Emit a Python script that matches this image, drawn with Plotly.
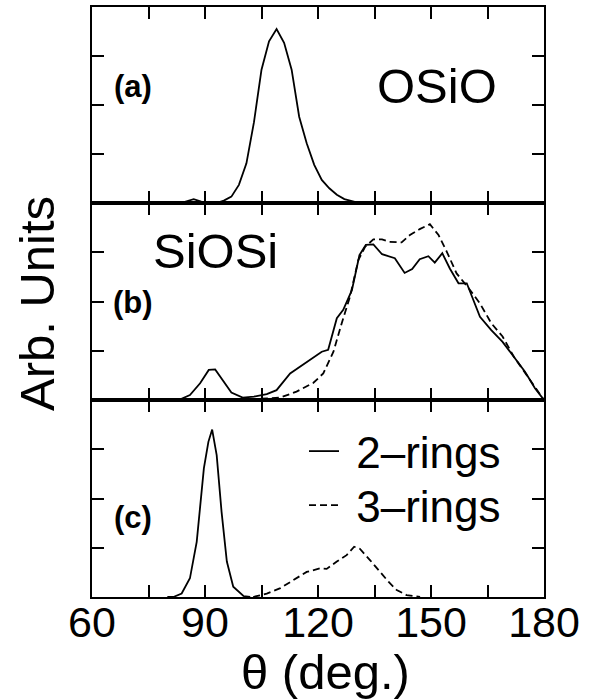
import plotly.graph_objects as go
from plotly.subplots import make_subplots

# ---- data (theta in degrees, values in arbitrary units) ----
a_theta = [80, 84, 87, 89, 91, 93, 95, 97, 99, 101, 103, 105, 107, 109, 111, 113, 115, 117, 119, 121, 123, 125, 127, 130, 134]
a_val = [0, 0.01, 0.08, 0.03, 0.01, 0.0, 0.05, 0.13, 0.37, 0.81, 1.65, 2.72, 3.30, 3.55, 3.27, 2.72, 1.76, 1.22, 0.78, 0.47, 0.30, 0.17, 0.08, 0.02, 0]

b2_theta = [83, 86, 88.7, 91, 92.7, 95, 97, 100, 103, 106.4, 109, 112.6, 115.2, 118, 121, 122.7, 125, 126.7, 129, 131, 132.7, 134.7, 137, 140.4, 143, 145, 147, 149.3, 151, 153, 155, 157.3, 159.5, 163, 166, 169, 172, 175, 177.6, 180]
b2_val = [0, 0.10, 0.34, 0.61, 0.62, 0.37, 0.15, 0.05, 0.07, 0.12, 0.20, 0.54, 0.68, 0.83, 0.98, 1.02, 1.66, 1.83, 2.23, 2.94, 3.15, 3.16, 2.96, 2.88, 2.58, 2.66, 2.86, 2.92, 2.79, 2.98, 2.67, 2.37, 2.37, 1.69, 1.42, 1.18, 0.88, 0.57, 0.24, 0]

b3_theta = [99, 104.6, 110, 114.3, 118.8, 121.4, 124.1, 126.3, 128.5, 130.7, 132.5, 134.7, 137, 139, 142.2, 144.4, 147, 149.7, 152, 154.2, 156.8, 160, 163, 166, 169, 172, 174.5, 177.2, 180]
b3_val = [0, 0.02, 0.05, 0.17, 0.35, 0.54, 0.98, 1.56, 2.10, 2.84, 3.11, 3.26, 3.26, 3.21, 3.20, 3.35, 3.47, 3.57, 3.35, 3.01, 2.57, 2.27, 1.96, 1.56, 1.29, 0.88, 0.61, 0.31, 0]

c2_theta = [80, 81.6, 83.8, 86, 87.8, 89.7, 90.9, 91.9, 93.1, 94.4, 95.8, 97.5, 100.2, 102]
c2_val = [0, 0, 0.07, 0.38, 1.12, 2.61, 3.15, 3.40, 2.88, 1.73, 0.72, 0.21, 0.02, 0]

c3_theta = [102.8, 106.4, 110, 113.5, 117, 120.5, 122.3, 125, 127.6, 129.6, 131.1, 133.8, 136.5, 138.7, 140.9, 143.5, 147.1]
c3_val = [0, 0.07, 0.18, 0.35, 0.51, 0.58, 0.57, 0.72, 0.85, 1.02, 0.98, 0.75, 0.51, 0.31, 0.14, 0.04, 0]

x_tickvals = [60, 75, 90, 105, 120, 135, 150, 165, 180]
x_ticktext = ["60", "", "90", "", "120", "", "150", "", "180"]
series_names = ["2\u2013rings", "3\u2013rings"]
panel_labels = ["(a)", "(b)", "(c)"]
species = ["OSiO", "SiOSi"]

FONT = "Liberation Sans, Arial, sans-serif"
LW = 1.8
DASH = "7px,4px"
NB = "\u00a0"

fig = make_subplots(rows=3, cols=1, shared_xaxes=True, vertical_spacing=0)

fig.add_trace(go.Scatter(x=a_theta, y=a_val, mode="lines", line=dict(color="black", width=LW),
                         showlegend=False), row=1, col=1)
fig.add_trace(go.Scatter(x=b2_theta, y=b2_val, mode="lines", line=dict(color="black", width=LW),
                         showlegend=False), row=2, col=1)
fig.add_trace(go.Scatter(x=b3_theta, y=b3_val, mode="lines", line=dict(color="black", width=LW, dash=DASH),
                         showlegend=False), row=2, col=1)
fig.add_trace(go.Scatter(x=c2_theta, y=c2_val, mode="lines", name=NB + series_names[0], legend="legend",
                         line=dict(color="black", width=LW)), row=3, col=1)
fig.add_trace(go.Scatter(x=c3_theta, y=c3_val, mode="lines", name=NB + series_names[1], legend="legend2",
                         line=dict(color="black", width=LW, dash=DASH)), row=3, col=1)

W, H = 590, 700
L, R, T, B = 92, 46, 7, 103
ph = H - T - B

def py2paper(py):
    return (H - B - py) / ph

def px2paper(px):
    return (px - L) / (W - L - R)

domains = [[py2paper(203), 1.0], [py2paper(400), py2paper(203)], [0.0, py2paper(400)]]

for i in range(3):
    fig.update_yaxes(row=i + 1, col=1, domain=domains[i], range=[0, 4], tickvals=[1, 2, 3],
                     showticklabels=False, ticks="inside", ticklen=12, tickwidth=1.5, tickcolor="black",
                     showline=True, linewidth=2, linecolor="black", mirror="ticks",
                     showgrid=False, zeroline=False)
    fig.update_xaxes(row=i + 1, col=1, range=[60, 180], tickvals=x_tickvals, ticktext=x_ticktext,
                     ticks="inside", ticklen=12, tickwidth=1.5, tickcolor="black",
                     showline=True, linewidth=2, linecolor="black", mirror="ticks",
                     showgrid=False, zeroline=False, showticklabels=(i == 2),
                     ticklabelstandoff=-14,
                     tickfont=dict(family=FONT, size=43, color="black"))

annotations = []
for lab, py in zip(panel_labels, [87, 302, 517]):
    annotations.append(dict(text="<b>" + lab + "</b>", x=px2paper(133), y=py2paper(py), xref="paper", yref="paper",
                            xanchor="center", yanchor="middle", showarrow=False,
                            font=dict(family=FONT, size=31, color="black")))
annotations.append(dict(text=species[0], x=px2paper(437), y=py2paper(86), xref="paper", yref="paper",
                        xanchor="center", yanchor="middle", showarrow=False,
                        font=dict(family=FONT, size=49, color="black")))
annotations.append(dict(text=species[1], x=px2paper(215), y=py2paper(251), xref="paper", yref="paper",
                        xanchor="center", yanchor="middle", showarrow=False,
                        font=dict(family=FONT, size=49, color="black")))
annotations.append(dict(text="Arb. Units", x=px2paper(37), y=py2paper(304), xref="paper", yref="paper",
                        xanchor="center", yanchor="middle", showarrow=False, textangle=-90,
                        font=dict(family=FONT, size=49, color="black")))
annotations.append(dict(text="\u03b8 (deg.)", x=px2paper(325), y=py2paper(672), xref="paper", yref="paper",
                        xanchor="center", yanchor="middle", showarrow=False,
                        font=dict(family=FONT, size=49, color="black")))

leg_common = dict(xanchor="left", yanchor="top", bgcolor="rgba(0,0,0,0)", borderwidth=0,
                  font=dict(family=FONT, size=44, color="black"), itemwidth=30)

fig.update_layout(
    width=W, height=H,
    margin=dict(l=L, r=R, t=T, b=B, autoexpand=False),
    paper_bgcolor="white", plot_bgcolor="white",
    font=dict(family=FONT, color="black"),
    annotations=annotations,
    showlegend=True,
    legend=dict(x=px2paper(304), y=py2paper(416), **leg_common),
    legend2=dict(x=px2paper(304), y=py2paper(470), **leg_common),
)

fig.write_html("out.html", config={"displayModeBar": False},
               post_script="document.body.style.margin='0';document.body.style.overflow='hidden';")
